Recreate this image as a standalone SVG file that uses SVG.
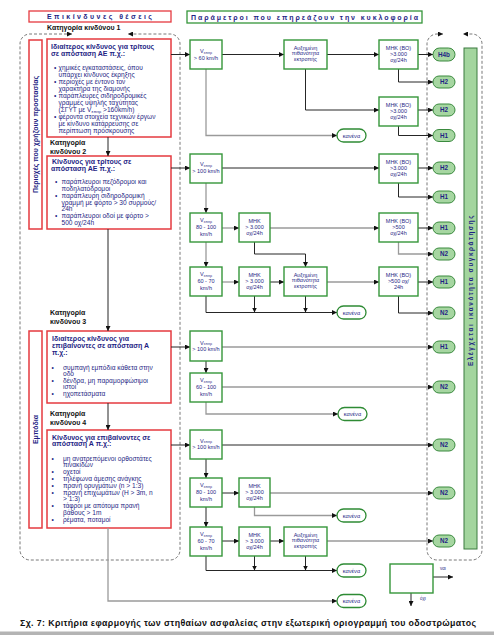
<svg xmlns="http://www.w3.org/2000/svg" width="494" height="635" viewBox="0 0 494 635">
<style>
.t{font-family:"Liberation Sans",Arial,Helvetica,sans-serif;fill:#1f1f85}
.k{fill:#111}
.b{font-weight:bold}
.hb{font-size:7px;font-weight:bold}
.bt{font-size:6.6px}
.gt{font-size:5.5px;text-anchor:middle}
.pt{font-size:6.3px;font-weight:bold;text-anchor:middle}
.kt{font-size:5.6px;text-anchor:middle}
.rb{fill:#fff;stroke:#e53a3f;stroke-width:1.5}
.gb{fill:#fff;stroke:#35963a;stroke-width:1.4}
.pill{fill:#a6d6a1;stroke:#3a8a3e;stroke-width:1}
.kp{fill:#fff;stroke:#2e8b34;stroke-width:1.3}
.c{stroke:#262626;stroke-width:1;fill:none}
.cg{stroke:#9a9a9a;stroke-width:1.3;fill:none}
.d{stroke:#555;stroke-width:0.8;stroke-dasharray:3,2;fill:none}
</style>
<defs>
<marker id="a" markerUnits="userSpaceOnUse" markerWidth="5" markerHeight="5" refX="5" refY="2.5" orient="auto-start-reverse">
<path d="M0,0 L5,2.5 L0,5 z" fill="#111"/>
</marker>
</defs>
<rect width="494" height="635" fill="#fff"/>

<!-- headers -->
<g id="hdr-left">
<rect x="29" y="11" width="142" height="11" fill="#fff" stroke="#e53a3f" stroke-width="1.3"/>
<text class="t hb" x="47" y="19" textLength="105" lengthAdjust="spacing">Επικίνδυνες θέσεις</text>
</g>
<g id="hdr-right">
<rect x="187" y="11" width="235" height="12" fill="#fff" stroke="#35963a" stroke-width="1.3"/>
<text class="t hb" x="191" y="19.5" textLength="227" lengthAdjust="spacing">Παράμετροι    που    επηρεάζουν    την    κυκλοφορία</text>
</g>

<!-- dashed frames -->
<g id="frames">
<path class="d" d="M72,34 H30 A10,10 0 0 0 20,44 V550 A10,10 0 0 0 30,560 H170 A10,10 0 0 0 180,550 V44 A10,10 0 0 0 170,34 H128" marker-start="url(#a)" marker-end="url(#a)"/>
<path class="d" d="M443,34 H437 A10,10 0 0 0 427,44 V550 A10,10 0 0 0 437,560 H472 A10,10 0 0 0 482,550 V44 A10,10 0 0 0 472,34 H463" marker-start="url(#a)" marker-end="url(#a)"/>
</g>

<!-- category labels -->
<g id="cat-labels">
<text class="t hb k" x="47" y="29.5">Κατηγορία κινδύνου 1</text>
<text class="t hb k" x="50" y="145">Κατηγορία</text>
<text class="t hb k" x="50" y="154">κινδύνου 2</text>
<text class="t hb k" x="50" y="315">Κατηγορία</text>
<text class="t hb k" x="50" y="324">κινδύνου 3</text>
<text class="t hb k" x="50" y="416">Κατηγορία</text>
<text class="t hb k" x="50" y="425">κινδύνου 4</text>
</g>

<!-- left vertical boxes -->
<g id="area-protect">
<rect class="rb" x="29" y="40" width="13" height="189"/>
<text class="t hb" transform="translate(38.3,134.5) rotate(-90)" text-anchor="middle" font-size="6.6">Περιοχές που χρήζουν προστασίας</text>
</g>
<g id="area-obstacles">
<rect class="rb" x="29" y="331" width="13" height="197"/>
<text class="t hb" transform="translate(38.3,429.5) rotate(-90)" text-anchor="middle" font-size="6.6">Εμπόδια</text>
</g>

<!-- category boxes -->
<g id="cat1">
<rect class="rb" x="47" y="39" width="124" height="98"/>
<text class="t hb" x="51" y="48.5">Ιδιαίτερος κίνδυνος για τρίτους</text>
<text class="t hb" x="51" y="56">σε απόσταση ΑΕ π.χ.:</text>
<g class="t bt">
<text x="54" y="70">•</text><text x="58.5" y="70">χημικές εγκαταστάσεις, όπου</text>
<text x="58.5" y="77">υπάρχει κίνδυνος έκρηξης</text>
<text x="54" y="84">•</text><text x="58.5" y="84">περιοχές με έντονο τον</text>
<text x="58.5" y="91">χαρακτήρα της διαμονής</text>
<text x="54" y="98">•</text><text x="58.5" y="98">παράπλευρες σιδηροδρομικές</text>
<text x="58.5" y="105">γραμμές υψηλής ταχύτητας</text>
<text x="58.5" y="112">(ΣΓΥΤ με V<tspan font-size="4.2" dy="1">επιτρ</tspan><tspan dy="-1"> &gt;160km/h)</tspan></text>
<text x="54" y="119">•</text><text x="58.5" y="119">φέροντα στοιχεία τεχνικών έργων</text>
<text x="58.5" y="126">με κίνδυνο κατάρρευσης σε</text>
<text x="58.5" y="133">περίπτωση πρόσκρουσης</text>
</g>
</g>

<g id="cat2">
<rect class="rb" x="47" y="156" width="124" height="73"/>
<text class="t hb" x="52" y="163.5">Κίνδυνος για τρίτους σε</text>
<text class="t hb" x="51" y="170.5">απόσταση ΑΕ π.χ.:</text>
<g class="t bt">
<text x="55" y="184">•</text><text x="61.5" y="184">παράπλευροι πεζόδρομοι και</text>
<text x="61.5" y="190.5">ποδηλατόδρομοι</text>
<text x="55" y="197.5">•</text><text x="61.5" y="197.5">παράπλευρη σιδηροδρομική</text>
<text x="61.5" y="204.5">γραμμή με φόρτο &gt; 30 συρμούς/</text>
<text x="61.5" y="211">24h</text>
<text x="55" y="218">•</text><text x="61.5" y="218">παράπλευροι οδοί με φόρτο &gt;</text>
<text x="61.5" y="225">500 οχ/24h</text>
</g>
</g>

<g id="cat3">
<rect class="rb" x="47" y="331" width="124" height="72"/>
<text class="t hb" x="52" y="340.5">Ιδιαίτερος κίνδυνος για</text>
<text class="t hb" x="52" y="347.5">επιβαίνοντες σε απόσταση Α</text>
<text class="t hb" x="52" y="355">π.χ.:</text>
<g class="t bt">
<text x="51.5" y="369.5">•</text><text x="63" y="369.5">συμπαγή εμπόδια κάθετα στην</text>
<text x="63" y="376">οδό</text>
<text x="51.5" y="382.5">•</text><text x="63" y="382.5">δένδρα, μη παραμορφώσιμοι</text>
<text x="63" y="389">ιστοί</text>
<text x="51.5" y="395.5">•</text><text x="63" y="395.5">ηχοπετάσματα</text>
</g>
</g>

<g id="cat4">
<rect class="rb" x="47" y="430" width="124" height="98"/>
<text class="t hb" x="52" y="439.5">Κίνδυνος για επιβαίνοντες σε</text>
<text class="t hb" x="52" y="446">απόσταση Α π.χ.:</text>
<g class="t bt">
<text x="51.5" y="460.5">•</text><text x="63" y="460.5">μη ανατρεπόμενοι ορθοστάτες</text>
<text x="63" y="466.5">πινακίδων</text>
<text x="51.5" y="474">•</text><text x="63" y="474">οχετοί</text>
<text x="51.5" y="480.5">•</text><text x="63" y="480.5">τηλέφωνα άμεσης ανάγκης</text>
<text x="51.5" y="487.5">•</text><text x="63" y="487.5">πρανή ορυγμάτων (n &gt; 1:3)</text>
<text x="51.5" y="494.5">•</text><text x="63" y="494.5">πρανή επιχωμάτων (H &gt; 3m, n</text>
<text x="63" y="501">&gt; 1:3)</text>
<text x="51.5" y="508">•</text><text x="63" y="508">τάφροι με απότομα πρανή</text>
<text x="63" y="514.5">βάθους &gt; 1m</text>
<text x="51.5" y="521.5">•</text><text x="63" y="521.5">ρέματα, ποταμοί</text>
</g>
</g>

<!-- connectors -->
<g id="connectors">
<!-- left chain -->
<path class="c" d="M108,137 V156" marker-end="url(#a)"/>
<path class="c" d="M108,229 V331" marker-end="url(#a)"/>
<path class="c" d="M108,403 V430" marker-end="url(#a)"/>
<path class="cg" d="M108,528 V601 H337" marker-end="url(#a)"/>
<!-- row 1 -->
<path class="c" d="M171,54.5 H190" marker-end="url(#a)"/>
<path class="c" d="M222,54.5 H284" marker-end="url(#a)"/>
<path class="c" d="M327,54.5 H379" marker-end="url(#a)"/>
<path class="c" d="M418,54.5 H433" marker-end="url(#a)"/>
<path class="c" d="M398.5,69 V82 H433" marker-end="url(#a)"/>
<path class="c" d="M305.5,69 V110 H379" marker-end="url(#a)"/>
<path class="c" d="M418,110 H433" marker-end="url(#a)"/>
<path class="c" d="M398.5,126 V135.5 H433" marker-end="url(#a)"/>
<path class="cg" d="M206,69 V135.5 H337" marker-end="url(#a)"/>
<!-- row 2 -->
<path class="c" d="M171,168 H190" marker-end="url(#a)"/>
<path class="c" d="M222,168 H379" marker-end="url(#a)"/>
<path class="c" d="M418,168 H433" marker-end="url(#a)"/>
<path class="c" d="M398.5,183 V197 H433" marker-end="url(#a)"/>
<path class="cg" d="M206,183 V213" marker-end="url(#a)"/>
<path class="cg" d="M222,228 H239" marker-end="url(#a)"/>
<path class="cg" d="M270,228 H379" marker-end="url(#a)"/>
<path class="c" d="M418,228 H433" marker-end="url(#a)"/>
<path class="cg" d="M398.5,242 V254 H433" marker-end="url(#a)"/>
<path class="c" d="M254.5,242 V254 H305.5 V267" marker-end="url(#a)"/>
<path class="cg" d="M206,242 V267" marker-end="url(#a)"/>
<path class="cg" d="M222,282 H239" marker-end="url(#a)"/>
<path class="c" d="M270,282 H284" marker-end="url(#a)"/>
<path class="cg" d="M327,282 H379" marker-end="url(#a)"/>
<path class="c" d="M418,282 H433" marker-end="url(#a)"/>
<path class="c" d="M398.5,296 V313 H433" marker-end="url(#a)"/>
<path class="c" d="M206,296 V312.5 H337" marker-end="url(#a)"/>
<path class="c" d="M254.5,296 V312.5" marker-end="url(#a)"/>
<path class="c" d="M305.5,296 V312.5" marker-end="url(#a)"/>
<!-- row 3 -->
<path class="c" d="M171,347 H190" marker-end="url(#a)"/>
<path class="cg" d="M222,347 H433" marker-end="url(#a)"/>
<path class="c" d="M206,361 V373" marker-end="url(#a)"/>
<path class="cg" d="M222,387 H433" marker-end="url(#a)"/>
<path class="cg" d="M206,402 V414 H338" marker-end="url(#a)"/>
<!-- row 4 -->
<path class="c" d="M171,445 H190" marker-end="url(#a)"/>
<path class="c" d="M222,445 H433" marker-end="url(#a)"/>
<path class="c" d="M206,459 V478" marker-end="url(#a)"/>
<path class="c" d="M222,493 H239" marker-end="url(#a)"/>
<path class="cg" d="M270,493 H433" marker-end="url(#a)"/>
<path class="cg" d="M254.5,507 V515.5 H337" marker-end="url(#a)"/>
<path class="c" d="M206,507 V527" marker-end="url(#a)"/>
<path class="c" d="M222,541 H239" marker-end="url(#a)"/>
<path class="c" d="M270,541 H284" marker-end="url(#a)"/>
<path class="cg" d="M327,541 H433" marker-end="url(#a)"/>
<path class="c" d="M206,556 V570.5 H337" marker-end="url(#a)"/>
<path class="c" d="M254.5,556 V570.5" marker-end="url(#a)"/>
<path class="c" d="M305.5,556 V570.5" marker-end="url(#a)"/>
<!-- legend arrows -->
<path class="c" d="M433,577 H453" marker-end="url(#a)"/>
<path class="c" d="M411,593 V606" marker-end="url(#a)"/>
</g>

<!-- row 1 nodes -->
<g id="v1"><rect class="gb" x="190" y="40" width="32" height="29"/>
<text class="t gt" x="206" y="53">V<tspan font-size="3.6" dy="0.8">επιτρ</tspan></text>
<text class="t gt" x="206" y="59.5">&gt; 60 km/h</text></g>
<g id="a1"><rect class="gb" x="284" y="40" width="43" height="29"/>
<text class="t gt" x="305.5" y="49.5">Αυξημένη</text>
<text class="t gt" x="305.5" y="55">πιθανότητα</text>
<text class="t gt" x="305.5" y="60.5">εκτροπής</text></g>
<g id="m1"><rect class="gb" x="379" y="40" width="39" height="29"/>
<text class="t gt" x="398.5" y="50" font-size="6">MHK (BO)</text>
<text class="t gt" x="398.5" y="56" font-size="6">&gt;3.000</text>
<text class="t gt" x="398.5" y="62" font-size="6">οχ/24h</text></g>
<g id="m1b"><rect class="gb" x="379" y="97" width="39" height="29"/>
<text class="t gt" x="398.5" y="107" font-size="6">MHK (BO)</text>
<text class="t gt" x="398.5" y="113" font-size="6">&gt;3.000</text>
<text class="t gt" x="398.5" y="119" font-size="6">οχ/24h</text></g>
<g id="o1a"><rect class="pill" x="433" y="48" width="22" height="13" rx="6.5"/><text class="t pt" x="444" y="56.8">H4b</text></g>
<g id="o1b"><rect class="pill" x="433" y="76" width="22" height="12" rx="6"/><text class="t pt" x="444" y="84.3">H2</text></g>
<g id="o1c"><rect class="pill" x="433" y="104" width="22" height="12" rx="6"/><text class="t pt" x="444" y="112.3">H2</text></g>
<g id="o1d"><rect class="pill" x="433" y="129.5" width="22" height="12" rx="6"/><text class="t pt" x="444" y="137.8">H1</text></g>
<g id="k1"><rect class="kp" x="337" y="129" width="29" height="13" rx="6.5"/><text class="t kt" x="351.5" y="137.5">κανένα</text></g>

<!-- row 2 nodes -->
<g id="v2a"><rect class="gb" x="190" y="154" width="32" height="29"/>
<text class="t gt" x="206" y="166">V<tspan font-size="3.6" dy="0.8">επιτρ</tspan></text>
<text class="t gt" x="206" y="172.5">&gt; 100 km/h</text></g>
<g id="m2a"><rect class="gb" x="379" y="154" width="39" height="29"/>
<text class="t gt" x="398.5" y="164" font-size="6">MHK (BO)</text>
<text class="t gt" x="398.5" y="170" font-size="6">&gt;3.000</text>
<text class="t gt" x="398.5" y="176" font-size="6">οχ/24h</text></g>
<g id="v2b"><rect class="gb" x="190" y="213" width="32" height="29"/>
<text class="t gt" x="206" y="222">V<tspan font-size="3.6" dy="0.8">επιτρ</tspan></text>
<text class="t gt" x="206" y="229">80 - 100</text>
<text class="t gt" x="206" y="235.5">km/h</text></g>
<g id="m2b"><rect class="gb" x="239" y="213" width="31" height="29"/>
<text class="t gt" x="254.5" y="222.5" font-size="6">MHK</text>
<text class="t gt" x="254.5" y="228.5" font-size="6">&gt; 3.000</text>
<text class="t gt" x="254.5" y="234.5" font-size="6">οχ/24h</text></g>
<g id="m2c"><rect class="gb" x="379" y="213" width="39" height="29"/>
<text class="t gt" x="398.5" y="222.5" font-size="6">MHK (BO)</text>
<text class="t gt" x="398.5" y="228.5" font-size="6">&gt;500</text>
<text class="t gt" x="398.5" y="234.5" font-size="6">οχ/24h</text></g>
<g id="v2c"><rect class="gb" x="190" y="267" width="32" height="29"/>
<text class="t gt" x="206" y="276">V<tspan font-size="3.6" dy="0.8">επιτρ</tspan></text>
<text class="t gt" x="206" y="283">60 - 70</text>
<text class="t gt" x="206" y="289.5">km/h</text></g>
<g id="m2d"><rect class="gb" x="239" y="267" width="31" height="29"/>
<text class="t gt" x="254.5" y="276.5" font-size="6">MHK</text>
<text class="t gt" x="254.5" y="282.5" font-size="6">&gt; 3.000</text>
<text class="t gt" x="254.5" y="288.5" font-size="6">οχ/24h</text></g>
<g id="a2"><rect class="gb" x="284" y="267" width="43" height="29"/>
<text class="t gt" x="305.5" y="276.5">Αυξημένη</text>
<text class="t gt" x="305.5" y="282">πιθανότητα</text>
<text class="t gt" x="305.5" y="287.5">εκτροπής</text></g>
<g id="m2e"><rect class="gb" x="379" y="267" width="39" height="29"/>
<text class="t gt" x="398.5" y="276.5" font-size="6">MHK (BO)</text>
<text class="t gt" x="398.5" y="282.5" font-size="6">&gt;500 οχ/</text>
<text class="t gt" x="398.5" y="288.5" font-size="6">24h</text></g>
<g id="o2a"><rect class="pill" x="433" y="162" width="22" height="12" rx="6"/><text class="t pt" x="444" y="170.3">H2</text></g>
<g id="o2b"><rect class="pill" x="433" y="191" width="22" height="12" rx="6"/><text class="t pt" x="444" y="199.3">H1</text></g>
<g id="o2c"><rect class="pill" x="433" y="222" width="22" height="12" rx="6"/><text class="t pt" x="444" y="230.3">H1</text></g>
<g id="o2d"><rect class="pill" x="433" y="248" width="22" height="12" rx="6"/><text class="t pt" x="444" y="256.3">N2</text></g>
<g id="o2e"><rect class="pill" x="433" y="276" width="22" height="12" rx="6"/><text class="t pt" x="444" y="284.3">H1</text></g>
<g id="o2f"><rect class="pill" x="433" y="307" width="22" height="12" rx="6"/><text class="t pt" x="444" y="315.3">N2</text></g>
<g id="k2"><rect class="kp" x="337" y="306" width="29" height="13" rx="6.5"/><text class="t kt" x="351.5" y="314.5">κανένα</text></g>

<!-- row 3 nodes -->
<g id="v3a"><rect class="gb" x="190" y="331" width="32" height="30"/>
<text class="t gt" x="206" y="344.5">V<tspan font-size="3.6" dy="0.8">επιτρ</tspan></text>
<text class="t gt" x="206" y="351">&gt; 100 km/h</text></g>
<g id="v3b"><rect class="gb" x="190" y="373" width="32" height="29"/>
<text class="t gt" x="206" y="382">V<tspan font-size="3.6" dy="0.8">επιτρ</tspan></text>
<text class="t gt" x="206" y="389">60 - 100</text>
<text class="t gt" x="206" y="395.5">km/h</text></g>
<g id="o3a"><rect class="pill" x="433" y="341" width="22" height="12" rx="6"/><text class="t pt" x="444" y="349.3">H1</text></g>
<g id="o3b"><rect class="pill" x="433" y="381" width="22" height="12" rx="6"/><text class="t pt" x="444" y="389.3">N2</text></g>
<g id="k3"><rect class="kp" x="338" y="407.5" width="29" height="13" rx="6.5"/><text class="t kt" x="352.5" y="416">κανένα</text></g>

<!-- row 4 nodes -->
<g id="v4a"><rect class="gb" x="190" y="430" width="32" height="29"/>
<text class="t gt" x="206" y="442.5">V<tspan font-size="3.6" dy="0.8">επιτρ</tspan></text>
<text class="t gt" x="206" y="449">&gt; 100 km/h</text></g>
<g id="v4b"><rect class="gb" x="190" y="478" width="32" height="29"/>
<text class="t gt" x="206" y="487">V<tspan font-size="3.6" dy="0.8">επιτρ</tspan></text>
<text class="t gt" x="206" y="494">80 - 100</text>
<text class="t gt" x="206" y="500.5">km/h</text></g>
<g id="m4b"><rect class="gb" x="239" y="478" width="31" height="29"/>
<text class="t gt" x="254.5" y="487.5" font-size="6">MHK</text>
<text class="t gt" x="254.5" y="493.5" font-size="6">&gt; 3.000</text>
<text class="t gt" x="254.5" y="499.5" font-size="6">οχ/24h</text></g>
<g id="v4c"><rect class="gb" x="190" y="527" width="32" height="29"/>
<text class="t gt" x="206" y="536">V<tspan font-size="3.6" dy="0.8">επιτρ</tspan></text>
<text class="t gt" x="206" y="543">60 - 70</text>
<text class="t gt" x="206" y="549.5">km/h</text></g>
<g id="m4c"><rect class="gb" x="239" y="527" width="31" height="29"/>
<text class="t gt" x="254.5" y="536.5" font-size="6">MHK</text>
<text class="t gt" x="254.5" y="542.5" font-size="6">&gt; 3.000</text>
<text class="t gt" x="254.5" y="548.5" font-size="6">οχ/24h</text></g>
<g id="a4"><rect class="gb" x="284" y="527" width="43" height="29"/>
<text class="t gt" x="305.5" y="536.5">Αυξημένη</text>
<text class="t gt" x="305.5" y="542">πιθανότητα</text>
<text class="t gt" x="305.5" y="547.5">εκτροπής</text></g>
<g id="o4a"><rect class="pill" x="433" y="439" width="22" height="12" rx="6"/><text class="t pt" x="444" y="447.3">N2</text></g>
<g id="o4b"><rect class="pill" x="433" y="487" width="22" height="12" rx="6"/><text class="t pt" x="444" y="495.3">N2</text></g>
<g id="o4c"><rect class="pill" x="433" y="535" width="22" height="12" rx="6"/><text class="t pt" x="444" y="543.3">N2</text></g>
<g id="k4a"><rect class="kp" x="337" y="509" width="29" height="13" rx="6.5"/><text class="t kt" x="351.5" y="517.5">κανένα</text></g>
<g id="k4b"><rect class="kp" x="337" y="564" width="29" height="13" rx="6.5"/><text class="t kt" x="351.5" y="572.5">κανένα</text></g>
<g id="k4c"><rect class="kp" x="337" y="594.5" width="29" height="13" rx="6.5"/><text class="t kt" x="351.5" y="603">κανένα</text></g>

<!-- green bar -->
<g id="check-bar">
<rect x="464" y="48" width="13" height="501" fill="#a3d59e" stroke="#3a7a3e" stroke-width="1"/>
<text class="t b" transform="translate(473,290) rotate(-90)" text-anchor="middle" font-size="6.3" letter-spacing="1.6">Ελέγχεται  ικανότητα  συγκράτησης</text>
</g>

<!-- legend -->
<g id="legend">
<rect class="gb" x="390" y="564" width="43" height="29"/>
<text class="t" x="440" y="570" font-size="4.5">ναι</text>
<text class="t" x="420" y="600" font-size="4.5">όχι</text>
</g>

<!-- caption -->
<text class="t b k" x="20" y="626" font-size="8.8" textLength="456" lengthAdjust="spacing">Σχ. 7: Κριτήρια εφαρμογής των στηθαίων ασφαλείας στην εξωτερική οριογραμμή του οδοστρώματος</text>
<rect x="0" y="631.5" width="494" height="3.5" fill="#b4b4b4"/>
</svg>
